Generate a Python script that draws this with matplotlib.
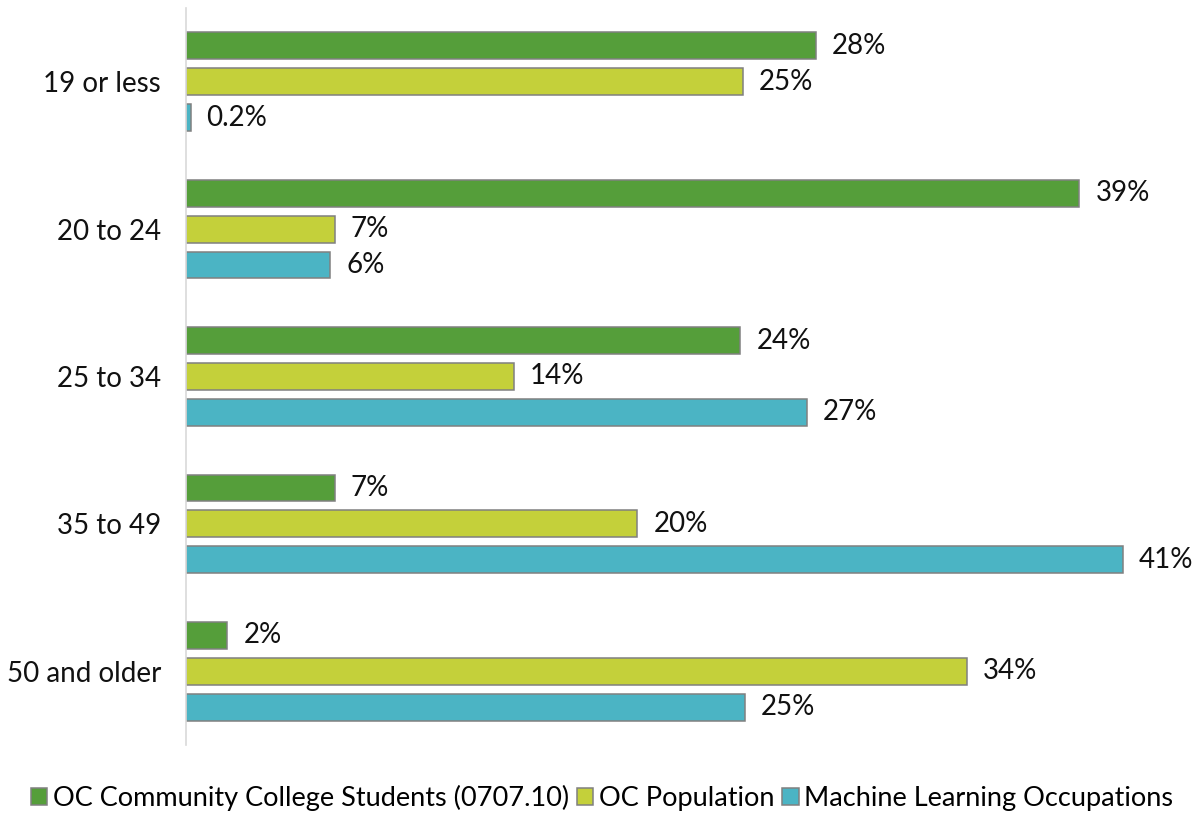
import numpy as np
import matplotlib.pyplot as plt
from matplotlib.patches import Patch

plt.rcParams['font.family'] = ['Lato', 'DejaVu Sans']

categories = ['19 or less', '20 to 24', '25 to 34', '35 to 49', '50 and older']
series = ['OC Community College Students (0707.10)', 'OC Population',
          'Machine Learning Occupations']
students = [27.5, 39.0, 24.2, 6.5, 1.8]
population = [24.3, 6.5, 14.3, 19.7, 34.1]
ml_occ = [0.2, 6.3, 27.1, 40.9, 24.4]
students_lbl = ['28%', '39%', '24%', '7%', '2%']
population_lbl = ['25%', '7%', '14%', '20%', '34%']
ml_occ_lbl = ['0.2%', '6%', '27%', '41%', '25%']

colors = ['#559E3A', '#C4D03A', '#4BB4C4']
values = [students, population, ml_occ]
labels = [students_lbl, population_lbl, ml_occ_lbl]

fig = plt.figure(figsize=(12.04, 8.17), dpi=100)
ax = fig.add_axes([186/1204, 1 - 745/817, 1008/1204, (745 - 8)/817])

y = np.arange(len(categories))
slot = 0.243
h = 0.182
for k in range(3):
    pos = y + (k - 1) * slot
    ax.barh(pos, values[k], height=h, color=colors[k], edgecolor='#808080',
            linewidth=1.1)
    for p, v, t in zip(pos, values[k], labels[k]):
        ax.text(v + 0.7, p, t, va='center', ha='left', fontsize=20,
                color='#111111', clip_on=False)

ax.set_xlim(0, 44)
ax.set_ylim(4.5, -0.5)
ax.set_yticks(y)
ax.set_yticklabels(categories, fontsize=20, color='#111111')
ax.tick_params(axis='y', length=0, pad=18)
ax.set_xticks([])
for s in ['top', 'right', 'bottom']:
    ax.spines[s].set_visible(False)
ax.spines['left'].set_color('#d9d9d9')
ax.spines['left'].set_linewidth(1.2)

handles = [Patch(facecolor=c, edgecolor='#808080', linewidth=1.1) for c in colors]
fig.legend(handles, series, loc='center', bbox_to_anchor=(0.5, 1 - 798/817),
           ncol=3, frameon=False, fontsize=19.5, handlelength=0.6,
           handleheight=0.6, handletextpad=0.2, columnspacing=0.3)

fig.savefig('out.png', dpi=100)
